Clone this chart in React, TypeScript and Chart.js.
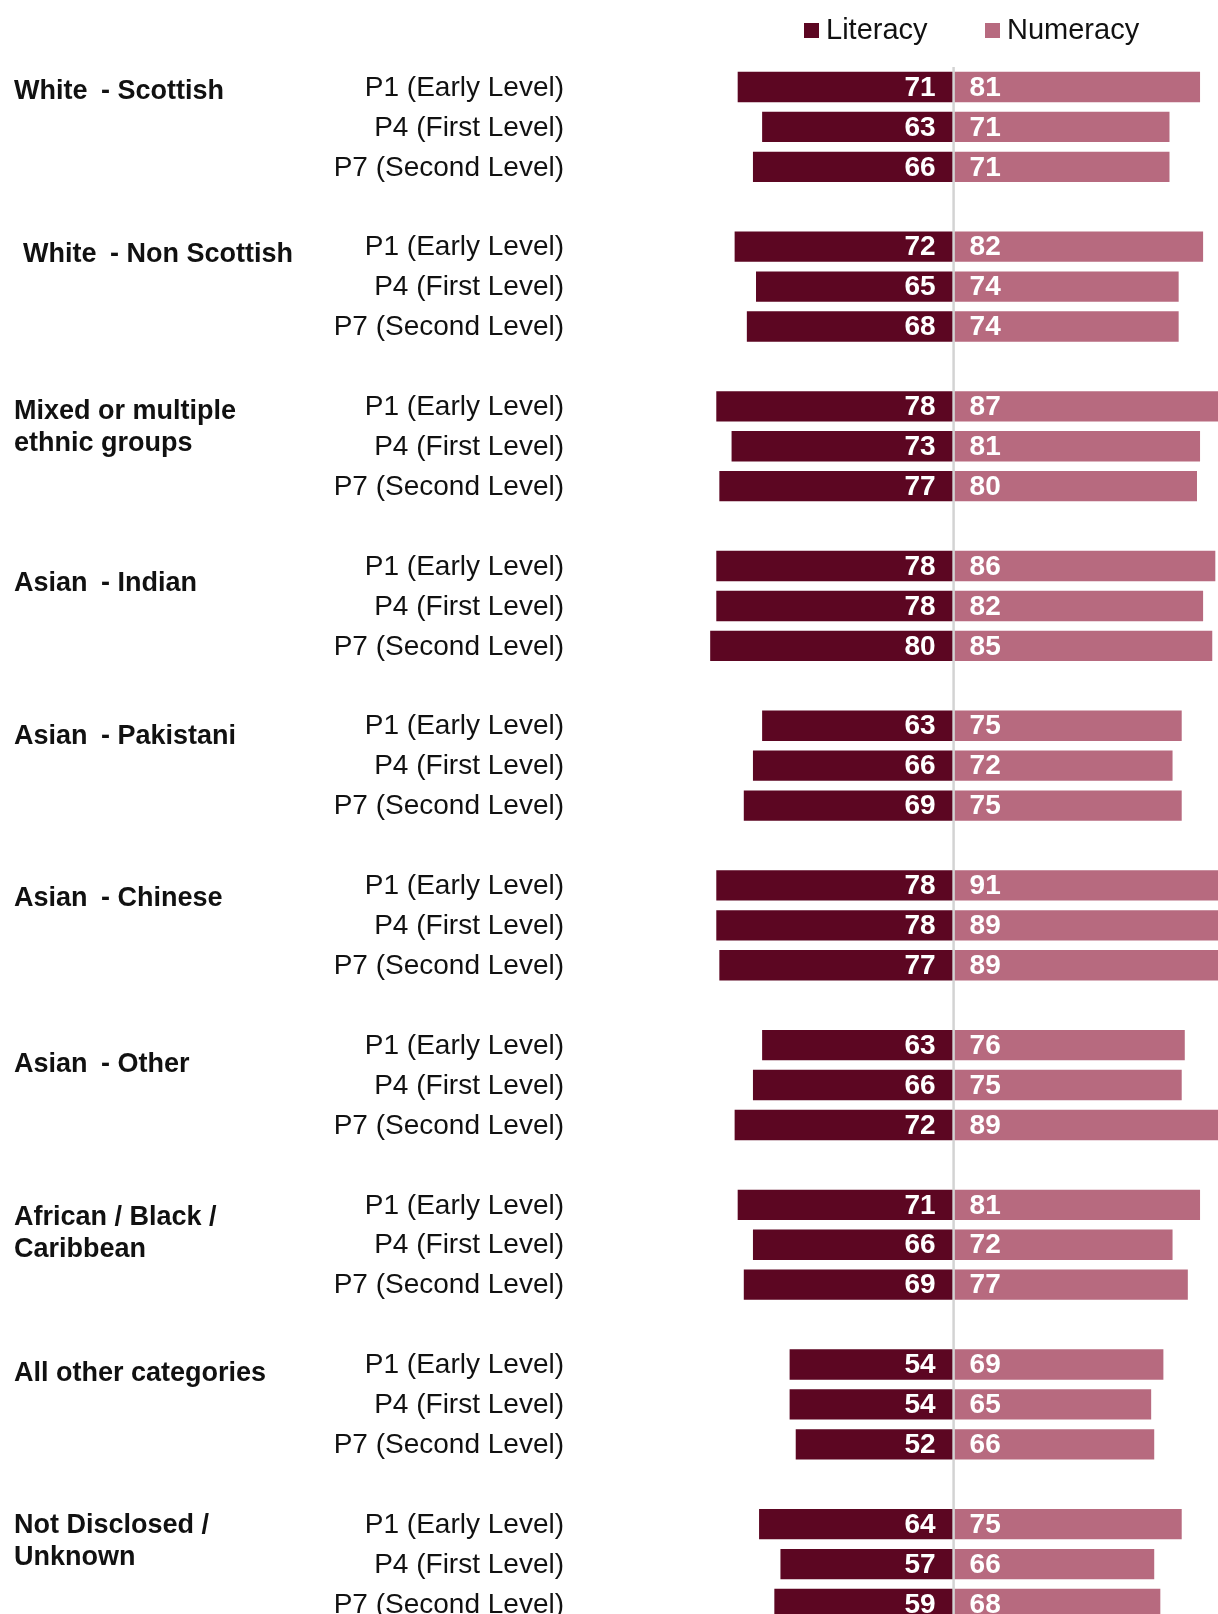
import React, { useEffect, useRef } from "react";
import { Chart, registerables } from "chart.js";

Chart.register(...registerables);

const groups: string[][] = [
  ["White - Scottish"],
  ["White - Non Scottish"],
  ["Mixed or multiple", "ethnic groups"],
  ["Asian - Indian"],
  ["Asian - Pakistani"],
  ["Asian - Chinese"],
  ["Asian - Other"],
  ["African / Black /", "Caribbean"],
  ["All other categories"],
  ["Not Disclosed /", "Unknown"],
];

const levels = ["P1 (Early Level)", "P4 (First Level)", "P7 (Second Level)"];

const literacy = [
  71, 63, 66,
  72, 65, 68,
  78, 73, 77,
  78, 78, 80,
  63, 66, 69,
  78, 78, 77,
  63, 66, 72,
  71, 66, 69,
  54, 54, 52,
  64, 57, 59,
];

const numeracy = [
  81, 71, 71,
  82, 74, 74,
  87, 81, 80,
  86, 82, 85,
  75, 72, 75,
  91, 89, 89,
  76, 75, 89,
  81, 72, 77,
  69, 65, 66,
  75, 66, 68,
];

const seriesNames = ["Literacy", "Numeracy"];
const colors = ["#5c0622", "#b76a7f"];

// label vertical offsets (px) relative to group's first row, and x positions
const groupLabelDy = [5, 8, 5.5, 18, 11, 13.6, 19.5, 12.4, 9, 1];
const groupLabelX = [14, 23, 14, 14, 14, 14, 14, 14, 14, 14];

const FONT = '"Liberation Sans", Arial, sans-serif';

export default function App() {
  const ref = useRef<HTMLCanvasElement | null>(null);

  useEffect(() => {
    document.body.style.margin = "0";
    const canvas = ref.current;
    if (!canvas) return;

    const labels: string[] = [];
    const litData: (number | null)[] = [];
    const numData: (number | null)[] = [];
    const rowLevel: (number | null)[] = [];
    groups.forEach((g, gi) => {
      levels.forEach((lv, li) => {
        labels.push(lv + "#" + gi);
        litData.push(-literacy[gi * 3 + li]);
        numData.push(numeracy[gi * 3 + li]);
        rowLevel.push(li);
      });
      if (gi < groups.length - 1) {
        labels.push("gap" + gi);
        litData.push(null);
        numData.push(null);
        rowLevel.push(null);
      }
    });

    const overlay = {
      id: "overlay",
      afterDatasetsDraw(chart: any) {
        const ctx = chart.ctx;
        const xs = chart.scales.x;
        const ys = chart.scales.y;
        const x0 = xs.getPixelForValue(0);
        const area = chart.chartArea;
        ctx.save();
        // center line
        ctx.strokeStyle = "#d3d3d3";
        ctx.lineWidth = 2.5;
        ctx.beginPath();
        ctx.moveTo(x0, area.top);
        ctx.lineTo(x0, area.bottom + 50);
        ctx.stroke();
        // value labels
        ctx.fillStyle = "#ffffff";
        ctx.font = `bold 28px ${FONT}`;
        ctx.textBaseline = "middle";
        labels.forEach((_, i) => {
          if (litData[i] == null) return;
          const y = ys.getPixelForValue(i);
          ctx.textAlign = "right";
          ctx.fillText(String(-(litData[i] as number)), x0 - 18, y + 1);
          ctx.textAlign = "left";
          ctx.fillText(String(numData[i]), x0 + 16, y + 1);
        });
        ctx.restore();
      },
      afterDraw(chart: any) {
        const ctx = chart.ctx;
        const ys = chart.scales.y;
        ctx.save();
        ctx.textBaseline = "middle";
        // level labels
        ctx.fillStyle = "#111111";
        ctx.font = `28px ${FONT}`;
        ctx.textAlign = "right";
        labels.forEach((_, i) => {
          const li = rowLevel[i];
          if (li == null) return;
          ctx.fillText(levels[li], 564, ys.getPixelForValue(i) + 1);
        });
        // group labels
        ctx.font = `bold 27px ${FONT}`;
        ctx.textAlign = "left";
        groups.forEach((g, gi) => {
          const yBase = ys.getPixelForValue(gi * 4) + groupLabelDy[gi];
          g.forEach((line, k) => {
            ctx.fillText(line.replace(" - ", "\u2002- "), groupLabelX[gi], yBase + k * 32);
          });
        });
        // legend
        ctx.font = `29px ${FONT}`;
        const legendX = [804, 985];
        seriesNames.forEach((name, si) => {
          ctx.fillStyle = colors[si];
          ctx.fillRect(legendX[si], 23, 15, 15);
          ctx.fillStyle = "#111111";
          ctx.fillText(name, legendX[si] + 22, 31);
        });
        ctx.restore();
      },
    };

    const chart = new Chart(canvas, {
      type: "bar",
      data: {
        labels,
        datasets: [
          {
            label: seriesNames[0],
            data: litData,
            backgroundColor: colors[0],
            borderColor: "rgba(255,255,255,0.5)",
            borderWidth: 1,
            barPercentage: 0.81,
            categoryPercentage: 1.0,
          },
          {
            label: seriesNames[1],
            data: numData,
            backgroundColor: colors[1],
            borderColor: "rgba(255,255,255,0.5)",
            borderWidth: 1,
            barPercentage: 0.81,
            categoryPercentage: 1.0,
          },
        ],
      },
      options: {
        indexAxis: "y",
        responsive: false,
        animation: false,
        devicePixelRatio: 1,
        layout: { padding: { left: 600, top: 67, right: 0, bottom: 0 } },
        plugins: {
          legend: { display: false },
          tooltip: { enabled: false },
          title: { display: false },
        },
        scales: {
          x: {
            type: "linear",
            stacked: true,
            min: -115.74,
            max: 86.55,
            display: false,
          },
          y: {
            type: "category",
            stacked: true,
            display: false,
          },
        },
      },
      plugins: [overlay],
    });

    return () => chart.destroy();
  }, []);

  return (
    <div style={{ width: 1218, height: 1614, overflow: "hidden", background: "#ffffff" }}>
      <canvas ref={ref} width={1218} height={1624} style={{ display: "block" }} />
    </div>
  );
}
